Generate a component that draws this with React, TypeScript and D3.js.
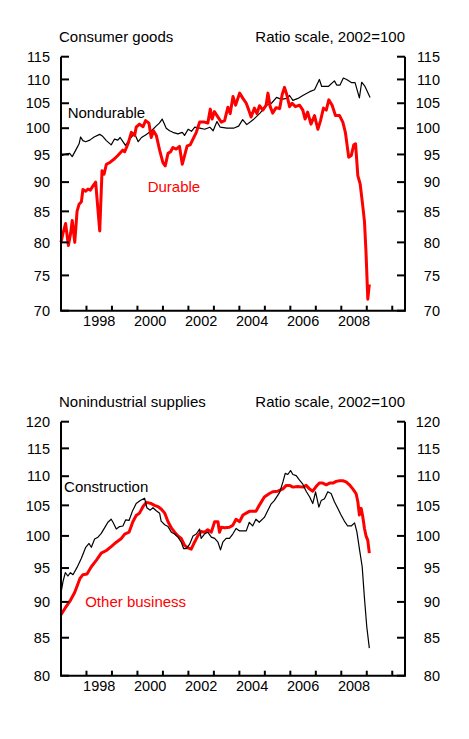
import React from 'react';
import * as d3 from 'd3';

type Pt = [number, number];

// Consumer goods (2002=100): [decimal year, index]
const nondurable: Pt[] = [
  [1997.0, 94.7], [1997.14, 95.0], [1997.34, 95.2], [1997.44, 94.6], [1997.6, 96.0], [1997.71, 97.0],
  [1997.77, 98.3], [1997.86, 97.6], [1997.97, 97.4], [1998.13, 97.7], [1998.3, 98.3], [1998.52, 98.8],
  [1998.62, 98.5], [1998.78, 97.6], [1998.97, 96.8], [1999.1, 97.9], [1999.23, 97.7], [1999.32, 98.2],
  [1999.43, 97.4], [1999.53, 96.7], [1999.66, 97.6], [1999.75, 98.2], [1999.88, 99.0], [2000.03, 97.4],
  [2000.16, 98.2], [2000.35, 98.8], [2000.55, 99.5], [2000.73, 100.4], [2000.86, 101.0], [2000.97, 101.8],
  [2001.13, 100.0], [2001.26, 99.5], [2001.39, 99.2], [2001.59, 98.9], [2001.76, 99.2], [2001.85, 98.6],
  [2001.99, 99.8], [2002.12, 99.4], [2002.25, 100.2], [2002.45, 100.0], [2002.64, 99.8], [2002.84, 100.2],
  [2002.97, 99.5], [2003.12, 101.3], [2003.25, 100.2], [2003.51, 100.0], [2003.77, 100.0], [2003.97, 100.4],
  [2004.13, 101.7], [2004.29, 100.7], [2004.55, 101.7], [2004.81, 103.0], [2005.07, 104.6], [2005.26, 105.0],
  [2005.46, 106.2], [2005.65, 105.8], [2005.85, 106.0], [2005.97, 106.6], [2006.1, 105.6], [2006.3, 106.0],
  [2006.49, 106.6], [2006.76, 107.4], [2006.95, 107.8], [2007.14, 110.0], [2007.23, 108.5], [2007.49, 108.5],
  [2007.73, 109.7], [2007.82, 108.8], [2007.95, 108.8], [2008.08, 110.3], [2008.21, 110.0], [2008.41, 109.3],
  [2008.54, 109.3], [2008.71, 106.1], [2008.8, 109.4], [2008.93, 108.5], [2009.13, 106.2],
];

const durable: Pt[] = [
  [1997.0, 80.0], [1997.08, 81.5], [1997.18, 83.0], [1997.29, 79.5], [1997.38, 81.5], [1997.44, 83.5],
  [1997.54, 80.0], [1997.63, 85.0], [1997.71, 86.2], [1997.8, 86.6], [1997.86, 88.7], [1997.97, 88.4],
  [1998.06, 88.8], [1998.15, 88.6], [1998.25, 89.3], [1998.36, 90.0], [1998.52, 81.8], [1998.61, 92.0],
  [1998.69, 91.4], [1998.78, 93.2], [1998.91, 93.5], [1999.1, 94.2], [1999.23, 94.8], [1999.42, 95.8],
  [1999.5, 95.5], [1999.63, 97.0], [1999.76, 99.2], [1999.89, 98.6], [1999.95, 100.2], [2000.08, 100.8],
  [2000.22, 100.3], [2000.32, 101.5], [2000.45, 101.0], [2000.54, 98.2], [2000.63, 99.5], [2000.74, 98.6],
  [2000.87, 95.8], [2001.0, 93.5], [2001.09, 92.9], [2001.2, 95.2], [2001.3, 95.5], [2001.39, 96.3],
  [2001.52, 96.0], [2001.65, 96.5], [2001.76, 93.2], [2001.85, 94.8], [2001.95, 96.6], [2002.07, 96.8],
  [2002.18, 97.9], [2002.31, 99.2], [2002.44, 101.2], [2002.63, 101.2], [2002.76, 101.0], [2002.86, 103.8],
  [2002.93, 101.8], [2003.02, 103.3], [2003.16, 102.2], [2003.29, 101.2], [2003.42, 101.5], [2003.55, 104.2],
  [2003.64, 102.9], [2003.75, 106.4], [2003.85, 104.6], [2004.01, 107.1], [2004.14, 106.0], [2004.27, 105.0],
  [2004.37, 103.6], [2004.46, 102.2], [2004.59, 104.0], [2004.69, 102.9], [2004.79, 104.5], [2004.92, 103.6],
  [2005.05, 104.6], [2005.12, 107.1], [2005.21, 104.3], [2005.31, 103.0], [2005.44, 104.1], [2005.58, 103.9],
  [2005.68, 106.8], [2005.77, 108.3], [2005.86, 106.8], [2005.97, 104.3], [2006.07, 105.0], [2006.2, 104.3],
  [2006.36, 104.6], [2006.49, 103.6], [2006.58, 101.8], [2006.68, 103.2], [2006.81, 100.8], [2006.95, 102.5],
  [2007.08, 99.8], [2007.18, 101.4], [2007.3, 104.0], [2007.41, 103.6], [2007.51, 105.7], [2007.64, 104.6],
  [2007.77, 102.5], [2007.93, 102.5], [2008.06, 101.2], [2008.16, 99.2], [2008.29, 94.5], [2008.39, 94.8],
  [2008.49, 96.8], [2008.56, 97.0], [2008.65, 91.1], [2008.74, 89.7], [2008.84, 86.0], [2008.91, 83.3],
  [2008.97, 78.5], [2009.04, 71.6], [2009.1, 73.7],
];

// Nonindustrial supplies (2002=100)
const construction: Pt[] = [
  [1997.0, 91.3], [1997.08, 93.0], [1997.17, 94.3], [1997.27, 93.8], [1997.37, 94.3], [1997.47, 94.0],
  [1997.63, 95.1], [1997.8, 96.5], [1997.97, 98.2], [1998.1, 98.8], [1998.19, 98.2], [1998.32, 99.5],
  [1998.45, 99.8], [1998.58, 100.4], [1998.71, 101.3], [1998.84, 102.2], [1998.97, 102.7], [1999.04, 102.2],
  [1999.17, 101.1], [1999.3, 101.5], [1999.43, 101.6], [1999.54, 102.6], [1999.67, 102.5], [1999.8, 104.0],
  [1999.95, 105.3], [2000.11, 105.8], [2000.28, 106.2], [2000.37, 104.6], [2000.5, 104.2], [2000.61, 104.6],
  [2000.74, 104.1], [2000.87, 103.7], [2000.93, 102.4], [2001.07, 101.8], [2001.2, 101.5], [2001.33, 100.6],
  [2001.46, 100.3], [2001.59, 99.8], [2001.72, 99.0], [2001.81, 98.0], [2001.92, 98.0], [2002.05, 98.7],
  [2002.18, 100.0], [2002.31, 100.3], [2002.44, 101.1], [2002.5, 99.6], [2002.63, 100.3], [2002.76, 100.6],
  [2002.9, 99.8], [2003.03, 99.6], [2003.16, 99.0], [2003.26, 97.8], [2003.35, 99.0], [2003.48, 99.6],
  [2003.61, 99.6], [2003.74, 100.3], [2003.87, 101.2], [2004.01, 100.8], [2004.27, 100.8], [2004.39, 102.2],
  [2004.52, 101.6], [2004.65, 102.7], [2004.78, 102.2], [2004.98, 103.0], [2005.11, 104.1], [2005.24, 105.2],
  [2005.37, 105.8], [2005.58, 107.2], [2005.71, 109.0], [2005.8, 110.5], [2005.9, 110.3], [2006.01, 111.0],
  [2006.1, 110.3], [2006.23, 110.1], [2006.36, 109.3], [2006.49, 108.6], [2006.62, 107.4], [2006.76, 106.4],
  [2006.88, 105.3], [2006.99, 107.3], [2007.12, 104.7], [2007.21, 105.8], [2007.34, 106.1], [2007.47, 107.3],
  [2007.6, 107.0], [2007.73, 105.6], [2007.86, 104.5], [2007.99, 103.4], [2008.12, 102.4], [2008.25, 101.6],
  [2008.39, 101.6], [2008.52, 102.1], [2008.61, 100.7], [2008.71, 98.0], [2008.82, 95.2], [2008.91, 90.5],
  [2009.0, 86.5], [2009.1, 83.6],
];

const otherBusiness: Pt[] = [
  [1997.0, 88.2], [1997.16, 89.1], [1997.35, 90.1], [1997.54, 91.4], [1997.74, 93.4], [1997.86, 94.0],
  [1998.02, 94.1], [1998.19, 95.2], [1998.39, 96.2], [1998.58, 97.3], [1998.78, 97.7], [1998.97, 98.3],
  [1999.17, 99.0], [1999.37, 99.6], [1999.5, 100.3], [1999.67, 100.6], [1999.82, 102.3], [1999.95, 103.3],
  [2000.08, 103.7], [2000.22, 104.8], [2000.35, 105.5], [2000.54, 105.3], [2000.67, 105.0], [2000.8, 104.8],
  [2000.93, 104.4], [2001.07, 103.7], [2001.2, 102.3], [2001.33, 101.3], [2001.46, 100.6], [2001.59, 100.0],
  [2001.72, 99.6], [2001.85, 98.5], [2001.98, 98.1], [2002.11, 97.9], [2002.24, 99.0], [2002.37, 100.0],
  [2002.5, 100.7], [2002.63, 100.6], [2002.76, 101.0], [2002.9, 100.6], [2003.03, 102.3], [2003.16, 102.3],
  [2003.22, 100.6], [2003.29, 101.4], [2003.42, 101.3], [2003.61, 101.4], [2003.74, 101.7], [2003.87, 102.7],
  [2004.01, 102.3], [2004.14, 103.4], [2004.27, 103.7], [2004.39, 104.0], [2004.65, 104.0], [2004.78, 105.0],
  [2004.98, 106.4], [2005.18, 107.0], [2005.31, 107.3], [2005.51, 107.4], [2005.71, 107.8], [2005.84, 108.4],
  [2005.97, 108.4], [2006.1, 108.1], [2006.29, 108.2], [2006.49, 108.1], [2006.62, 108.4], [2006.75, 107.8],
  [2006.88, 107.4], [2007.01, 108.2], [2007.14, 108.8], [2007.27, 108.8], [2007.41, 108.5], [2007.54, 108.8],
  [2007.67, 108.8], [2007.8, 109.1], [2007.93, 109.2], [2008.06, 109.2], [2008.19, 109.0], [2008.32, 108.5],
  [2008.45, 107.8], [2008.58, 107.0], [2008.65, 105.6], [2008.71, 103.4], [2008.78, 104.5], [2008.84, 103.2],
  [2008.91, 101.2], [2008.97, 100.0], [2009.04, 99.3], [2009.1, 97.3],
];

const yearTicks = d3.range(1998, 2011);
const yearLabels = [1998, 2000, 2002, 2004, 2006, 2008];
const topTicks = [70, 75, 80, 85, 90, 95, 100, 105, 110, 115];
const bottomTicks = [80, 85, 90, 95, 100, 105, 110, 115, 120];

const FONT = '"Liberation Sans", Arial, sans-serif';
const RED = '#ff0000';

interface SeriesDef {
  data: Pt[];
  color: string;
  width: number;
  label: string;
  at: Pt; // label anchor in data units (left edge, vertical centre)
}

interface PanelProps {
  top: number;
  title: string;
  ticks: number[];
  series: SeriesDef[];
}

const x = d3.scaleLinear().domain([1997, 2010.5]).range([61, 405]);

const Panel: React.FC<PanelProps> = ({ top, title, ticks, series }) => {
  const bottom = top + 254;
  const y = d3.scaleLog().domain([ticks[0], ticks[ticks.length - 1]]).range([bottom, top]);
  const line = d3.line<Pt>().x(d => x(d[0])).y(d => y(d[1]));
  const [x0, x1] = x.range();

  return (
    <g fontFamily={FONT}>
      <text x={59} y={top - 20.5} dy="0.36em" fontSize={15}>{title}</text>
      <text x={x1} y={top - 20.5} dy="0.36em" fontSize={15} textAnchor="end">Ratio scale, 2002=100</text>

      {series.map(s => (
        <path key={s.label} d={line(s.data) ?? ''} fill="none" stroke={s.color}
          strokeWidth={s.width} strokeLinejoin="round" />
      ))}

      {/* frame: left, right, bottom */}
      <path d={`M${x0},${top}V${bottom}H${x1}V${top}`} fill="none" stroke="#000" strokeWidth={2} />

      {ticks.map(t => (
        <g key={t}>
          <line x1={x0} x2={x0 + 8} y1={y(t)} y2={y(t)} stroke="#000" strokeWidth={2} />
          <line x1={x1 - 8} x2={x1} y1={y(t)} y2={y(t)} stroke="#000" strokeWidth={2} />
          <text x={50} y={y(t)} dy="0.36em" fontSize={14.5} textAnchor="end">{t}</text>
          <text x={440} y={y(t)} dy="0.36em" fontSize={14.5} textAnchor="end">{t}</text>
        </g>
      ))}

      {yearTicks.map(yr => (
        <line key={yr} x1={x(yr)} x2={x(yr)} y1={bottom - 5} y2={bottom} stroke="#000" strokeWidth={2} />
      ))}
      {yearLabels.map(yr => (
        <text key={yr} x={x(yr + 0.5)} y={bottom + 10.5} dy="0.36em" fontSize={14.5} textAnchor="middle">{yr}</text>
      ))}

      {series.map(s => (
        <text key={s.label + '-lbl'} x={x(s.at[0])} y={y(s.at[1])} dy="0.36em" fontSize={15}
          fill={s.color === '#000' ? '#000' : RED}>{s.label}</text>
      ))}
    </g>
  );
};

export default function App() {
  return (
    <svg width={469} height={739} style={{ position: 'absolute', left: 0, top: 0, background: '#fff' }}>
      <rect width={469} height={739} fill="#fff" />
      <Panel
        top={56.7}
        title="Consumer goods"
        ticks={topTicks}
        series={[
          { data: nondurable, color: '#000', width: 1.2, label: 'Nondurable', at: [1997.26, 103.1] },
          { data: durable, color: RED, width: 3, label: 'Durable', at: [2000.4, 89.2] },
        ]}
      />
      <Panel
        top={421.7}
        title="Nonindustrial supplies"
        ticks={bottomTicks}
        series={[
          { data: otherBusiness, color: RED, width: 3, label: 'Other business', at: [1997.95, 90.1] },
          { data: construction, color: '#000', width: 1.2, label: 'Construction', at: [1997.12, 108.2] },
        ]}
      />
    </svg>
  );
}
